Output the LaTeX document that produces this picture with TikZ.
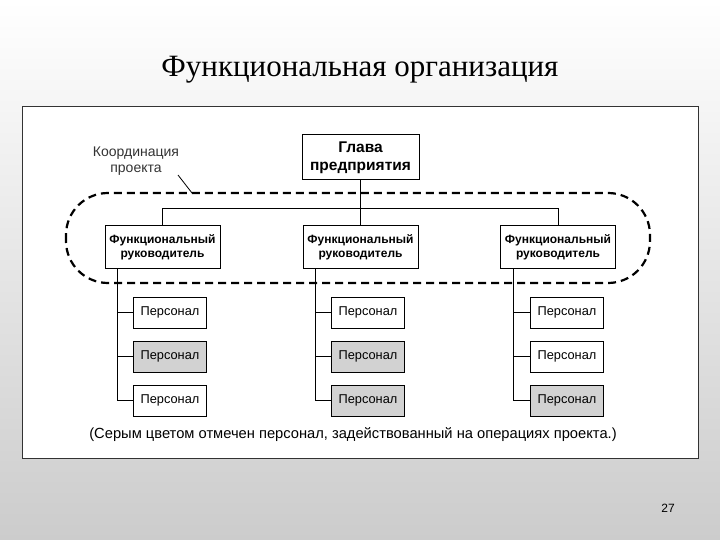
\documentclass[tikz,border=0pt]{standalone}
\usepackage{fontspec}
\setmainfont{Liberation Serif}
\newfontfamily\ars{Liberation Sans}
\begin{document}
\begin{tikzpicture}[x=1pt,y=-1pt,
  box/.style={draw,line width=1pt,fill=white,inner sep=0pt,font=\ars\bfseries\fontsize{12}{14}\selectfont,align=center},
  fbox/.style={box,minimum width=115pt,minimum height=42pt},
  pbox/.style={box,minimum width=73pt,minimum height=31pt,font=\ars\fontsize{12.8}{14}\selectfont},
  gbox/.style={pbox,fill=gray!35},
  ln/.style={line width=1pt}]
\shade[top color=white,bottom color=gray!40] (0,0) rectangle (720,540);
\useasboundingbox (0,0) rectangle (720,540);
\node (title) at (360,70) {\fontsize{31}{34}\selectfont Функциональная организация};
\node (num) at (668,508) {\ars\fontsize{12}{14}\selectfont 27};
\draw[fill=white,draw=black!80,line width=0.8pt] (22,106) rectangle (698,458);
\draw[dashed,line width=2.2pt,dash pattern=on 8pt off 5pt,rounded corners=42pt] (66,193) rectangle (650,283);
\node[box,minimum width=117pt,minimum height=45pt,font=\ars\bfseries\fontsize{15.5}{18}\selectfont] (head) at (360.5,157.5) {Глава\\предприятия};
\node[fbox] (f1) at (162.5,247) {Функциональный\\руководитель};
\node[fbox] (f2) at (360.5,247) {Функциональный\\руководитель};
\node[fbox] (f3) at (558,247) {Функциональный\\руководитель};
\coordinate (bl) at (162.5,209); \coordinate (br) at (558,209);
\draw[ln] (head.south) -- (f2.north);
\draw[ln] (f1.north) -- (bl) -- (br) -- (f3.north);
\foreach \i/\x/\a/\b/\c in {1/170/pbox/gbox/pbox,2/368/pbox/gbox/gbox,3/567/pbox/pbox/gbox}{
  \node[\a] (p\i a) at (\x,312.5) {Персонал};
  \node[\b] (p\i b) at (\x,356.5) {Персонал};
  \node[\c] (p\i c) at (\x,400.5) {Персонал};
  \draw[ln] ([xshift=13pt]f\i.south west) |- (p\i c.west);
  \draw[ln] ([xshift=13pt]f\i.south west |- p\i a.west) -- (p\i a.west);
  \draw[ln] ([xshift=13pt]f\i.south west |- p\i b.west) -- (p\i b.west);
}
\node[align=center,font=\ars\fontsize{14}{16}\selectfont,text=black!80] (coord) at (136,161) {Координация\\проекта};
\coordinate (ct) at (192,193);
\draw[line width=0.8pt] (178,175) -- (ct);
\node[font=\ars\fontsize{14.7}{17}\selectfont] (cap) at (353,435) {(Серым цветом отмечен персонал, задействованный на операциях проекта.)};
\end{tikzpicture}
\end{document}
